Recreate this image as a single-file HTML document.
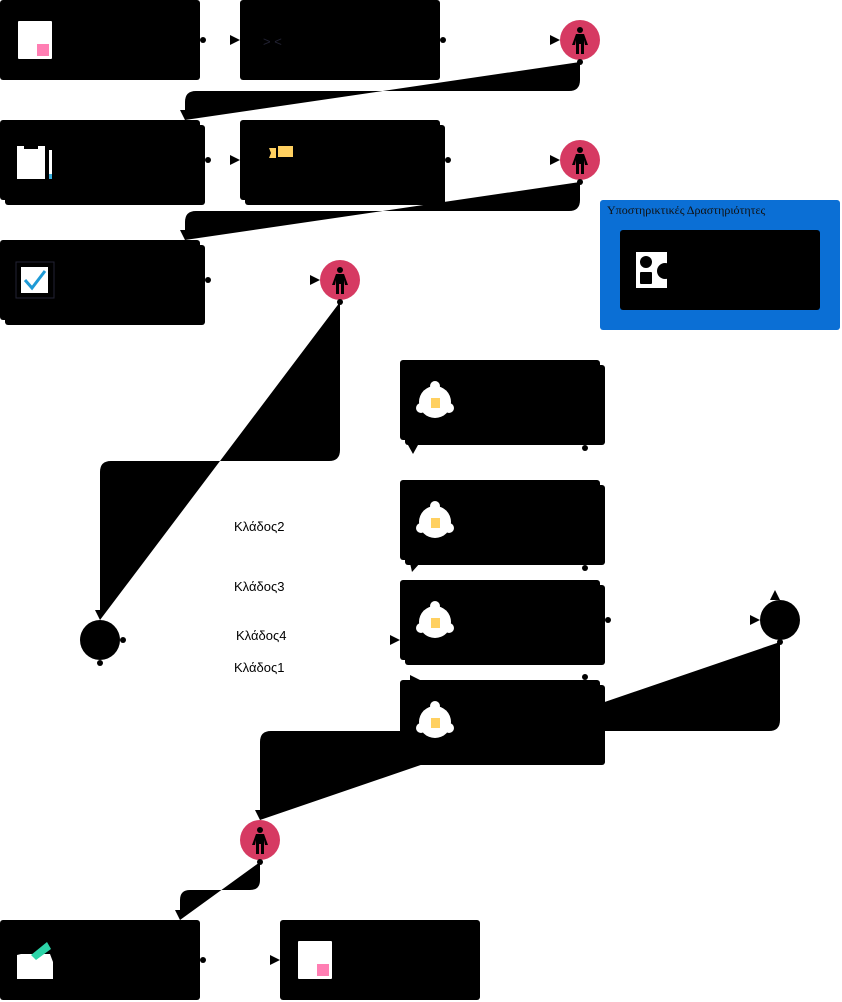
<!DOCTYPE html>
<html><head><meta charset="utf-8"><style>html,body{margin:0;padding:0;background:#fff}svg{display:block}</style></head>
<body>
<svg width="842" height="1002" viewBox="0 0 842 1002" xmlns="http://www.w3.org/2000/svg" font-family="Liberation Sans, sans-serif">
<!-- connectors (filled) -->
<g fill="#000">
<path d="M580,62 L580,80 Q580,91 569,91 L196,91 Q185,91 185,102 L185,120 Z"/>
<path d="M580,182 L580,200 Q580,211 569,211 L196,211 Q185,211 185,222 L185,240 Z"/>
<path d="M340,302 L340,450 Q340,461 329,461 L111,461 Q100,461 100,472 L100,620 Z"/>
<path d="M780,642 L780,720 Q780,731 769,731 L271,731 Q260,731 260,742 L260,820 Z"/>
<path d="M260,862 L260,880 Q260,890 250,890 L190,890 Q180,890 180,900 L180,920 Z"/>
</g>
<!-- boxes -->
<g fill="#000">
<rect x="0" y="0" width="200" height="80" rx="3"/>
<rect x="240" y="0" width="200" height="80" rx="3"/>
<rect x="5" y="125" width="200" height="80" rx="3"/><rect x="0" y="120" width="200" height="80" rx="3"/>
<rect x="245" y="125" width="200" height="80" rx="3"/><rect x="240" y="120" width="200" height="80" rx="3"/>
<rect x="5" y="245" width="200" height="80" rx="3"/><rect x="0" y="240" width="200" height="80" rx="3"/>
<rect x="405" y="365" width="200" height="80" rx="3"/><rect x="400" y="360" width="200" height="80" rx="3"/>
<rect x="405" y="485" width="200" height="80" rx="3"/><rect x="400" y="480" width="200" height="80" rx="3"/>
<rect x="405" y="585" width="200" height="80" rx="3"/><rect x="400" y="580" width="200" height="80" rx="3"/>
<rect x="405" y="685" width="200" height="80" rx="3"/><rect x="400" y="680" width="200" height="80" rx="3"/>
<rect x="0" y="920" width="200" height="80" rx="3"/>
<rect x="280" y="920" width="200" height="80" rx="3"/>
<circle cx="100" cy="640" r="20"/>
<circle cx="780" cy="620" r="20"/>
</g>
<!-- blue group -->
<rect x="600" y="200" width="240" height="130" rx="3" fill="#0b6fd5"/>
<text x="607" y="214" font-family="Liberation Serif, serif" font-size="12" fill="#111">Υποστηρικτικές Δραστηριότητες</text>
<rect x="620" y="230" width="200" height="80" rx="3" fill="#000"/>
<rect x="636" y="252" width="31" height="36" fill="#fff"/>
<circle cx="646" cy="262" r="6" fill="#000"/><rect x="640" y="272" width="12" height="12" rx="1" fill="#000"/><circle cx="665" cy="271" r="8" fill="#000"/>
<!-- pink people -->
<g>
<circle cx="580" cy="40" r="20" fill="#d63a62"/>
<circle cx="580" cy="160" r="20" fill="#d63a62"/>
<circle cx="340" cy="280" r="20" fill="#d63a62"/>
<circle cx="260" cy="840" r="20" fill="#d63a62"/>
</g>
<g fill="#000">
<g transform="translate(580,40)"><circle cx="0" cy="-10" r="3"/><path d="M-4,-6 L4,-6 L8,5 L5,5 L4,0 L4,14 L1,14 L1,4 L-1,4 L-1,14 L-4,14 L-4,0 L-5,5 L-8,5 Z"/></g>
<g transform="translate(580,160)"><circle cx="0" cy="-10" r="3"/><path d="M-4,-6 L4,-6 L8,5 L5,5 L4,0 L4,14 L1,14 L1,4 L-1,4 L-1,14 L-4,14 L-4,0 L-5,5 L-8,5 Z"/></g>
<g transform="translate(340,280)"><circle cx="0" cy="-10" r="3"/><path d="M-4,-6 L4,-6 L8,5 L5,5 L4,0 L4,14 L1,14 L1,4 L-1,4 L-1,14 L-4,14 L-4,0 L-5,5 L-8,5 Z"/></g>
<g transform="translate(260,840)"><circle cx="0" cy="-10" r="3"/><path d="M-4,-6 L4,-6 L8,5 L5,5 L4,0 L4,14 L1,14 L1,4 L-1,4 L-1,14 L-4,14 L-4,0 L-5,5 L-8,5 Z"/></g>
</g>
<!-- dots -->
<g fill="#000">
<circle cx="203" cy="40" r="3"/><circle cx="443" cy="40" r="3"/><circle cx="208" cy="160" r="3"/><circle cx="448" cy="160" r="3"/>
<circle cx="208" cy="280" r="3"/><circle cx="580" cy="62" r="3"/><circle cx="580" cy="182" r="3"/><circle cx="340" cy="302" r="3"/>
<circle cx="585" cy="448" r="3"/><circle cx="585" cy="568" r="3"/><circle cx="608" cy="620" r="3"/><circle cx="585" cy="677" r="3"/>
<circle cx="123" cy="640" r="3"/><circle cx="100" cy="663" r="3"/><circle cx="780" cy="642" r="3"/><circle cx="260" cy="862" r="3"/><circle cx="203" cy="960" r="3"/>
</g>
<!-- arrowheads -->
<g fill="#000">
<path d="M230,35 L240,40 L230,45 Z"/><path d="M550,35 L560,40 L550,45 Z"/>
<path d="M230,155 L240,160 L230,165 Z"/><path d="M550,155 L560,160 L550,165 Z"/>
<path d="M310,275 L320,280 L310,285 Z"/><path d="M390,635 L400,640 L390,645 Z"/>
<path d="M750,615 L760,620 L750,625 Z"/><path d="M270,955 L280,960 L270,965 Z"/>
<path d="M410,675 L420,680 L410,685 Z"/>
<path d="M180,110 L190,110 L185,120 Z"/><path d="M180,230 L190,230 L185,240 Z"/>
<path d="M95,610 L105,610 L100,620 Z"/><path d="M255,810 L265,810 L260,820 Z"/>
<path d="M175,910 L185,910 L180,920 Z"/><path d="M408,445 L418,445 L413,454 Z"/>
<path d="M410,563 L420,563 L412,572 Z"/><path d="M770,600 L780,600 L775,590 Z"/>
</g>
<!-- labels -->
<g font-size="13" fill="#000">
<text x="234" y="531">Κλάδος2</text>
<text x="234" y="591">Κλάδος3</text>
<text x="236" y="640">Κλάδος4</text>
<text x="234" y="672">Κλάδος1</text>
</g>
<!-- icons -->
<rect x="18" y="21" width="34" height="38" rx="1" fill="#fff"/><rect x="37" y="44" width="12" height="12" fill="#ff7eb3"/>
<rect x="298" y="941" width="34" height="38" rx="1" fill="#fff"/><rect x="317" y="964" width="12" height="12" fill="#ff7eb3"/>
<text x="263" y="46" font-size="13" fill="#223">&gt; &lt;</text>
<rect x="17" y="146" width="28" height="33" fill="#fff"/><rect x="24" y="143" width="14" height="6" fill="#000"/><rect x="49" y="150" width="3" height="29" fill="#fff"/><rect x="49" y="174" width="3" height="5" fill="#3aaedc"/>
<rect x="278" y="146" width="15" height="11" fill="#ffd060"/><path d="M269,148 L276,148 L276,158 L269,158 L271,153 Z" fill="#ffd060"/>
<rect x="16" y="262" width="38" height="36" fill="#000" stroke="#223" stroke-width="1"/><rect x="21" y="267" width="27" height="26" fill="#fff"/><path d="M25,280 L32,288 L45,271" stroke="#1e9ad6" stroke-width="3" fill="none"/>
<g>
<g transform="translate(435,402)"><circle r="16" fill="#fff"/><circle cx="0" cy="-16" r="5" fill="#fff"/><circle cx="-14" cy="6" r="5" fill="#fff"/><circle cx="14" cy="6" r="5" fill="#fff"/><rect x="-4" y="-4" width="9" height="10" fill="#ffd060"/></g>
<g transform="translate(435,522)"><circle r="16" fill="#fff"/><circle cx="0" cy="-16" r="5" fill="#fff"/><circle cx="-14" cy="6" r="5" fill="#fff"/><circle cx="14" cy="6" r="5" fill="#fff"/><rect x="-4" y="-4" width="9" height="10" fill="#ffd060"/></g>
<g transform="translate(435,622)"><circle r="16" fill="#fff"/><circle cx="0" cy="-16" r="5" fill="#fff"/><circle cx="-14" cy="6" r="5" fill="#fff"/><circle cx="14" cy="6" r="5" fill="#fff"/><rect x="-4" y="-4" width="9" height="10" fill="#ffd060"/></g>
<g transform="translate(435,722)"><circle r="16" fill="#fff"/><circle cx="0" cy="-16" r="5" fill="#fff"/><circle cx="-14" cy="6" r="5" fill="#fff"/><circle cx="14" cy="6" r="5" fill="#fff"/><rect x="-4" y="-4" width="9" height="10" fill="#ffd060"/></g>
</g>
<path d="M17,979 L17,955 L21,954 L50,954 L53,962 L53,979 Z" fill="#fff"/><path d="M31,955 L47,942 L51,949 L36,960 Z" fill="#2dd4a8"/>
</svg>
</body></html>
